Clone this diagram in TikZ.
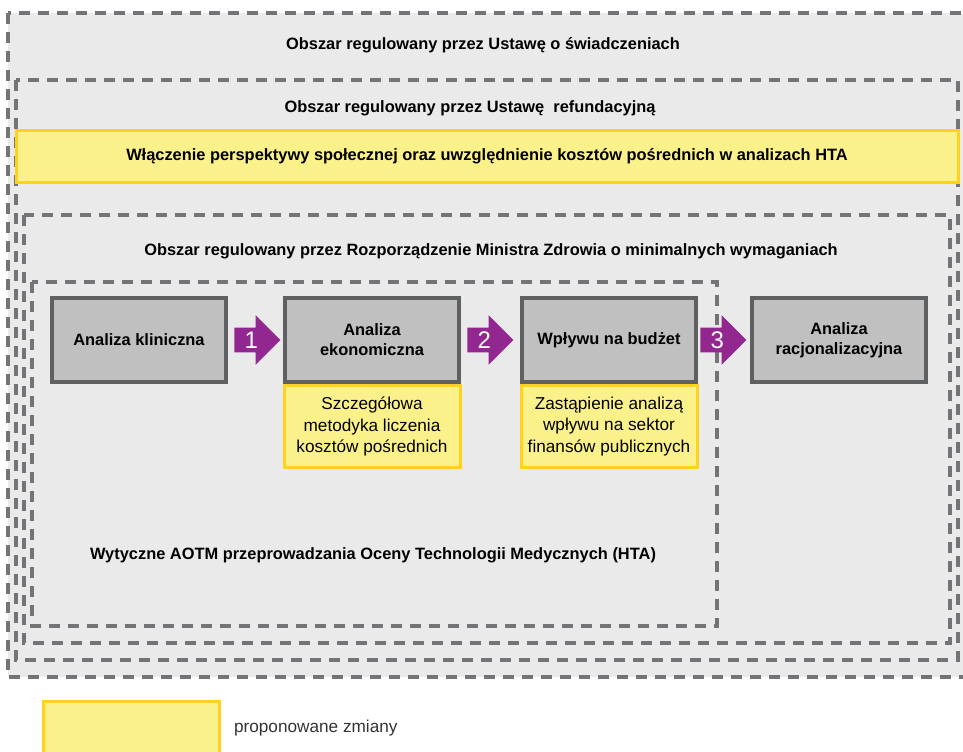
\documentclass[tikz,border=0pt]{standalone}
\usepackage{fontspec}
\setmainfont{Liberation Sans}
\usetikzlibrary{positioning,shapes.arrows}
\definecolor{framegray}{HTML}{737477}
\definecolor{areagray}{HTML}{EAEAEA}
\definecolor{boxgray}{HTML}{C0C0C0}
\definecolor{boxedge}{HTML}{5F6062}
\definecolor{newyellow}{HTML}{FBF18A}
\definecolor{newedge}{HTML}{FFD21F}
\definecolor{plum}{HTML}{92278F}

\begin{document}
\begin{tikzpicture}[x=0.5pt, y=-0.5pt,
      area/.style={draw=framegray, fill=areagray, line width=1.6pt, dash pattern=on 5.5pt off 4pt},
      areatitle/.style={font=\bfseries\fontsize{8.2}{10}\selectfont, inner sep=0pt},
      stage/.style={rectangle, draw=boxedge, fill=boxgray, line width=2pt, align=center, minimum width=87pt, minimum height=42pt, font=\bfseries\fontsize{8.2}{10}\selectfont},
      change/.style={rectangle, draw=newedge, fill=newyellow, line width=1.5pt, align=center, minimum width=88pt, minimum height=41pt, inner sep=0pt, font=\fontsize{8.6}{10.6}\selectfont},
      numarrow/.style={single arrow, fill=plum, text=white, font=\fontsize{12}{12}\selectfont, inner sep=0pt, text height=10.3pt, text depth=1.7pt, minimum height=23pt, single arrow head extend=6.25pt}
      ]
      \useasboundingbox (0,0) rectangle (963,751);
      % nested regions
      \draw[area] (8,13) rectangle (970,677);
      \draw[area] (16,80) rectangle (958,660);
      \draw[area] (24,215) rectangle (950,643);
      \draw[area] (32,282) rectangle (717,626);
      \node[areatitle] (lawtitle) at (483,45) {Obszar regulowany przez Ustawę o świadczeniach};
      \node[areatitle] (reftitle) at (470,108) {Obszar regulowany przez Ustawę\ \ refundacyjną};
      \node[change, minimum width=471pt, minimum height=26pt, font=\bfseries\fontsize{8.2}{10}\selectfont] (social) at (487,156) {Włączenie perspektywy społecznej oraz uwzględnienie kosztów pośrednich w analizach HTA};
      \node[areatitle] (mztitle) at (491,251) {Obszar regulowany przez Rozporządzenie Ministra Zdrowia o minimalnych wymaganiach};
      \node[areatitle] (aotmtitle) at (373,555) {Wytyczne AOTM przeprowadzania Oceny Technologii Medycznych (HTA)};
      % analyses
      \node[stage] (clin) at (139,340) {Analiza kliniczna};
      \node[stage] (econ) at (372,340) {Analiza\\ekonomiczna};
      \node[stage] (budget) at (609,340) {Wpływu na budżet};
      \node[stage] (ration) at (839,340) {Analiza\\racjonalizacyjna};
      \node[change, below=0pt of econ] (econnew) {Szczegółowa\\metodyka liczenia\\kosztów pośrednich};
      \node[change, below=0pt of budget] (budgetnew) {Zastąpienie analizą\\wpływu na sektor\\finansów publicznych};
      \node[numarrow, right=3pt of clin] (arr1) {1};
      \node[numarrow, right=3pt of econ] (arr2) {2};
      \node[numarrow, right=1pt of budget] (arr3) {3};
      % legend
      \node[change, minimum width=88pt, minimum height=27pt, anchor=north west] (legendbox) at (42,700) {};
      \node[right=3pt of legendbox, font=\fontsize{8.6}{10}\selectfont, text=black!80] (legendtext) {proponowane zmiany};
    \end{tikzpicture}
\end{document}
